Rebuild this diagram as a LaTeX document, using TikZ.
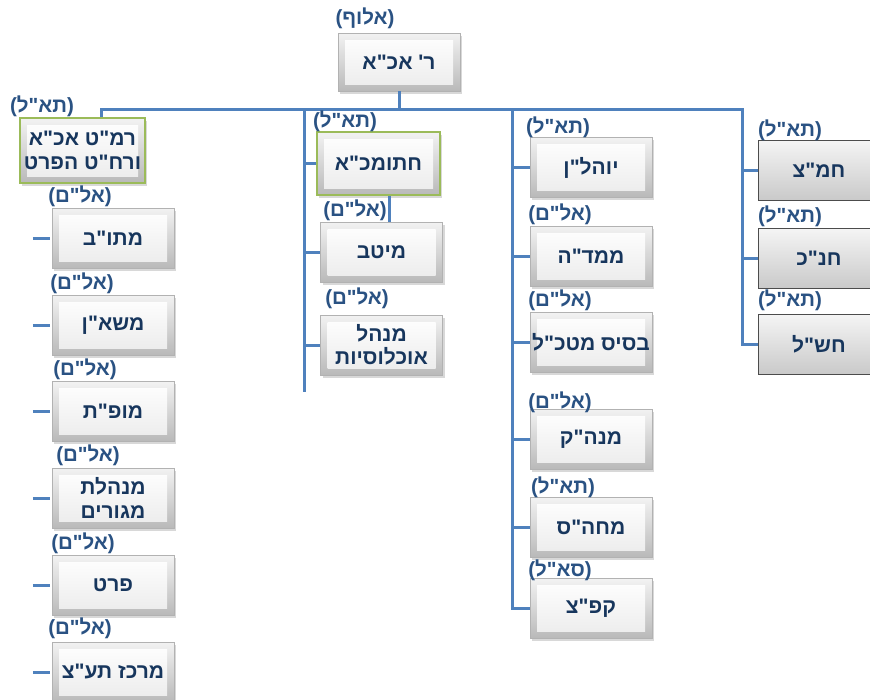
\documentclass[tikz,border=0pt]{standalone}
\usepackage{fontspec}
\TeXXeTstate=1
\newfontfamily\heb[Script=Hebrew]{Liberation Sans}
\usetikzlibrary{shadows}
\definecolor{linec}{HTML}{4F81BD}
\definecolor{txtc}{HTML}{17365D}
\definecolor{lblc}{HTML}{2A5283}
\definecolor{grn}{HTML}{9BBB59}
\tikzset{
  box/.style={rectangle, draw=gray!60, line width=0.5pt,
    top color=gray!10, bottom color=gray!55,
    drop shadow={opacity=0.3, shadow xshift=2pt, shadow yshift=-2.5pt},
    path picture={\shade[top color=white, bottom color=gray!16]
      ([shift={(7pt,-7pt)}]path picture bounding box.north west) rectangle
      ([shift={(-7pt,7pt)}]path picture bounding box.south east);},
    font=\heb\bfseries\fontsize{21}{23.5}\selectfont, text=txtc, align=center,
    inner sep=0pt, minimum width=122pt, minimum height=60pt},
  greenbox/.style={box, draw=grn, line width=1.6pt},
  flatbox/.style={rectangle, draw=black!70, line width=0.8pt,
    top color=gray!8, bottom color=gray!42,
    font=\heb\bfseries\fontsize{21}{23.5}\selectfont, text=txtc, align=center,
    inner sep=0pt, minimum width=122pt, minimum height=60pt},
  lbl/.style={font=\heb\bfseries\fontsize{20.5}{22}\selectfont, text=lblc, inner sep=0pt},
  conn/.style={draw=linec, line width=3pt}
}
\begin{document}
\begin{tikzpicture}[x=1pt,y=-1pt]
\clip (0,0) rectangle (870,699);
\fill[white] (0,0) rectangle (870,699);
% top
\node[box, minimum height=58pt] (top) at (399,62) {\beginR ר' אכ"א\endR};
% left column
\node[greenbox, minimum width=125pt, minimum height=65pt] (ramat) at (82.5,150.5) {\beginR רמ"ט אכ"א\endR\\\beginR ורח"ט הפרט\endR};
\node[box] (matov) at (113,238) {מתו"ב};
\node[box] (mashan) at (113,325) {משא"ן};
\node[box] (mofet) at (113,411.5) {מופ"ת};
\node[box] (minhelet) at (113,498) {מנהלת\\מגורים};
\node[box] (prat) at (113,585.5) {פרט};
\node[box] (merkaz) at (113,672) {\beginR מרכז תע"צ\endR};
% middle column
\node[greenbox, minimum width=123pt, minimum height=63pt] (hatum) at (378.5,163.5) {חתומכ"א};
\node[box] (meitav) at (381.5,252) {מיטב};
\node[box] (minhal) at (381.5,345) {מנהל\\אוכלוסיות};
% third column
\node[box] (yohalan) at (591,167.5) {יוהל"ן};
\node[box] (mamda) at (591,256) {ממד"ה};
\node[box] (basis) at (591,342.5) {\beginR בסיס מטכ"ל\endR};
\node[box] (manak) at (591,439) {מנה"ק};
\node[box] (mahas) at (591,527.5) {מחה"ס};
\node[box] (kapaz) at (591,608.5) {קפ"צ};
% right column
\node[flatbox] (hamaz) at (819,170) {חמ"צ};
\node[flatbox] (hanak) at (819,258) {חנ"כ};
\node[flatbox] (hashal) at (819,344) {חש"ל};
% connectors
\coordinate (barL) at (101,109);
\coordinate (barR) at (742,109);
\coordinate (midT) at (304,109);
\coordinate (midB) at (304,392);
\coordinate (thrT) at (512,109);
\draw[conn] (top.south) -- (top.south |- barL);
\draw[conn] (barL |- ramat.north) -- (barL) -- (barR) -- (barR |- hashal.west) -- (hashal.west);
\draw[conn] (barR |- hamaz.west) -- (hamaz.west);
\draw[conn] (barR |- hanak.west) -- (hanak.west);
\draw[conn] (midT) -- (midB);
\draw[conn] (midT |- hatum.west) -- (hatum.west);
\draw[conn] (midT |- meitav.west) -- (meitav.west);
\draw[conn] (midT |- minhal.west) -- (minhal.west);
\draw[conn] ([xshift=10.5pt]hatum.south) -- ([xshift=10.5pt]hatum.south |- meitav.north);
\draw[conn] (thrT) -- (thrT |- kapaz.west) -- (kapaz.west);
\draw[conn] (thrT |- yohalan.west) -- (yohalan.west);
\draw[conn] (thrT |- mamda.west) -- (mamda.west);
\draw[conn] (thrT |- basis.west) -- (basis.west);
\draw[conn] (thrT |- manak.west) -- (manak.west);
\draw[conn] (thrT |- mahas.west) -- (mahas.west);
\foreach \b in {matov,mashan,mofet,minhelet,prat,merkaz}
  \draw[conn] ([xshift=-19pt]\b.west) -- ([xshift=-2pt]\b.west);
% labels
\node[lbl] (l0) at (365,18) {(אלוף)};
\node[lbl] (l1) at (42,106) {(תא"ל)};
\node[lbl] (l2) at (80,196) {(אל"ם)};
\node[lbl] (l3) at (82,283) {(אל"ם)};
\node[lbl] (l4) at (85,369) {(אל"ם)};
\node[lbl] (l5) at (88,455) {(אל"ם)};
\node[lbl] (l6) at (83,543) {(אל"ם)};
\node[lbl] (l7) at (80,628) {(אל"ם)};
\node[lbl] (l8) at (345,121) {(תא"ל)};
\node[lbl] (l9) at (355,210) {(אל"ם)};
\node[lbl] (l10) at (357,298) {(אל"ם)};
\node[lbl] (l11) at (558,127) {(תא"ל)};
\node[lbl] (l12) at (560,214) {(אל"ם)};
\node[lbl] (l13) at (560,300) {(אל"ם)};
\node[lbl] (l14) at (560,402) {(אל"ם)};
\node[lbl] (l15) at (563,487) {(תא"ל)};
\node[lbl] (l16) at (560,570) {(סא"ל)};
\node[lbl] (l17) at (790,130) {(תא"ל)};
\node[lbl] (l18) at (790,216) {(תא"ל)};
\node[lbl] (l19) at (790,300) {(תא"ל)};
\end{tikzpicture}
\end{document}
